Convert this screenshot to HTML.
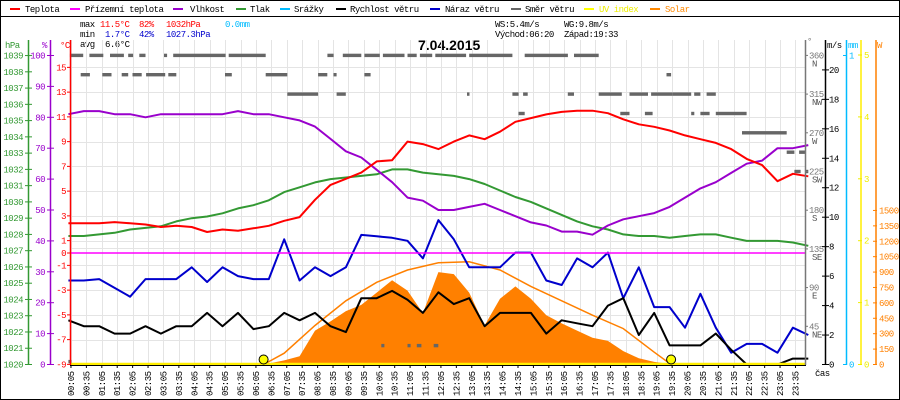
<!DOCTYPE html>
<html><head><meta charset="utf-8">
<style>
html,body{margin:0;padding:0;background:#fff;}
svg{display:block;}
text{font-family:"Liberation Mono",monospace;font-size:9px;letter-spacing:-0.5px;}
</style></head>
<body>
<svg id="c" width="900" height="400" xmlns="http://www.w3.org/2000/svg">
<rect x="0.5" y="0.5" width="899" height="399" fill="#fff" stroke="#000"/>
<line x1="0" y1="16.5" x2="900" y2="16.5" stroke="#000"/>
<g>
<g><line x1="10" y1="9" x2="20" y2="9" stroke="#f00" stroke-width="2"/><text x="25" y="12">Teplota</text></g>
<g><line x1="70" y1="9" x2="80" y2="9" stroke="#f0f" stroke-width="2"/><text x="85" y="12">Přízemní teplota</text></g>
<g><line x1="173" y1="9" x2="183" y2="9" stroke="#90c" stroke-width="2"/><text x="190" y="12">Vlhkost</text></g>
<g><line x1="236" y1="9" x2="246" y2="9" stroke="#393" stroke-width="2"/><text x="250" y="12">Tlak</text></g>
<g><line x1="280" y1="9" x2="290" y2="9" stroke="#0bf" stroke-width="2"/><text x="294" y="12">Srážky</text></g>
<g><line x1="336" y1="9" x2="346" y2="9" stroke="#000" stroke-width="2"/><text x="350" y="12">Rychlost větru</text></g>
<g><line x1="430" y1="9" x2="440" y2="9" stroke="#00c" stroke-width="2"/><text x="445" y="12">Náraz větru</text></g>
<g><line x1="511" y1="9" x2="521" y2="9" stroke="#666" stroke-width="2"/><text x="525" y="12">Směr větru</text></g>
<g><line x1="584" y1="9" x2="594" y2="9" stroke="#ff0" stroke-width="2"/><text x="599" y="12" fill="#ee0">UV index</text></g>
<g><line x1="650" y1="9" x2="660" y2="9" stroke="#f80" stroke-width="2"/><text x="665" y="12" fill="#f80">Solar</text></g>
</g>
<g>
<text x="80" y="27">max</text><text x="100" y="27" fill="#f00">11.5°C</text><text x="139" y="27" fill="#f00">82%</text><text x="166" y="27" fill="#f00">1032hPa</text><text x="225" y="27" fill="#0bf">0.0mm</text>
<text x="80" y="37">min</text><text x="105" y="37" fill="#00c">1.7°C</text><text x="139" y="37" fill="#00c">42%</text><text x="166" y="37" fill="#00c">1027.3hPa</text>
<text x="80" y="47">avg</text><text x="105" y="47">6.6°C</text>
<text x="495" y="27">WS:5.4m/s</text><text x="564" y="27">WG:9.8m/s</text>
<text x="495" y="37">Východ:06:20</text><text x="564" y="37">Západ:19:33</text>
</g>
<text x="418" y="50" style="font-family:'Liberation Sans',sans-serif;font-size:14px;font-weight:bold;letter-spacing:0">7.04.2015</text>
<g id="plot"></g>
</svg>
<script>
// ---- data (half-hour samples, 00:00 .. 24:00) ----
const temperature = [2.4,2.4,2.4,2.5,2.4,2.3,2.1,2.2,2.1,1.7,1.9,1.8,2.0,2.2,2.6,2.9,4.3,5.5,6.0,6.5,7.4,7.5,9.0,8.8,8.4,9.0,9.5,9.2,9.8,10.6,10.9,11.2,11.4,11.5,11.5,11.3,10.8,10.4,10.2,9.9,9.5,9.2,8.9,8.4,7.6,7.1,5.8,6.4,6.2];
const humidity = [81,82,82,81,81,80,81,81,81,81,81,82,81,81,80,79,77,73,69,67,63,59,54,53,50,50,51,52,50,48,46,45,43,43,42,45,47,48,49,51,54,57,59,62,65,66,70,70,71];
const pressure = [1027.9,1027.9,1028.0,1028.1,1028.3,1028.4,1028.5,1028.8,1029.0,1029.1,1029.3,1029.6,1029.8,1030.1,1030.6,1030.9,1031.2,1031.4,1031.5,1031.6,1031.7,1032.0,1032.0,1031.8,1031.7,1031.6,1031.4,1031.1,1030.7,1030.3,1030.0,1029.6,1029.2,1028.8,1028.5,1028.3,1028.0,1027.9,1027.9,1027.8,1027.9,1028.0,1028.0,1027.8,1027.6,1027.6,1027.6,1027.5,1027.3];
const windGust = [5.7,5.7,5.8,5.2,4.6,5.8,5.8,5.8,6.6,5.6,6.6,6.0,5.8,5.8,8.5,5.7,6.6,6.0,6.6,8.8,8.7,8.6,8.4,7.2,9.8,8.5,6.6,6.6,6.6,7.6,7.6,5.7,5.4,7.2,6.6,7.6,4.5,6.6,3.9,3.9,2.5,4.8,2.5,0.8,1.4,1.4,0.8,2.5,2.0];
const windSpeed = [3.0,2.6,2.6,2.1,2.1,2.6,2.1,2.6,2.6,3.5,2.6,3.5,2.4,2.6,3.5,3.0,3.5,2.6,2.2,4.5,4.5,5.0,4.4,3.5,4.9,4.1,4.5,2.6,3.5,3.5,3.5,2.1,3.0,2.8,2.6,4.0,4.5,2.0,3.5,1.3,1.3,1.3,2.1,1.0,0,0,0,0.4,0.4];
const solar = [0,0,0,0,0,0,0,0,0,0,0,0,0,10,40,80,330,420,520,580,700,820,720,500,900,880,700,380,640,760,640,480,400,330,260,230,130,60,25,5,0,0,0,0,0,0,0,0,0];
const clearSkyHours = [6.33,7,8,9,10,11,12,13,14,15,16,17,18,19,19.55];
const clearSkyValues = [0,110,380,620,800,920,990,1000,920,760,620,480,350,120,0];
const dirStart = [0.05,0.68,1.35,1.94,2.3,3.1,3.4,5.2,8.4,8.9,9.6,10.2,11.0,11.4,11.9,13.0,14.8,16.4, 0.4,1.1,1.73,2.08,2.52,3.24,5.08,6.4,8.1,8.6,9.6,19.4, 7.1,8.7,12.93,14.4,14.75,16.2,17.2,18.2,18.9,19.6,20.3,20.7, 14.6,17.9,18.7,20.2,20.5,21.0, 21.85, 23.3,23.7, 23.55,23.9, 10.15,11.0,11.3,11.85, 0.0];
const dirEnd   = [0.48,1.13,1.8,2.1,2.5,3.2,5.1,6.4,8.6,9.5,10.1,10.9,11.3,11.8,12.9,14.4,16.2,17.2, 0.7,1.4,1.94,2.38,3.14,3.5,5.3,7.1,8.4,8.7,9.8,19.55, 8.1,9.0,13.0,14.6,14.9,16.4,17.95,18.8,19.6,20.2,20.5,21.0, 14.8,18.2,18.95,20.3,20.8,22.0, 23.3, 23.55,23.9, 23.75,24.0, 10.25,11.1,11.45,12.0, 0.1];
const dirValue = [360,360,360,360,360,360,360,360,360,360,360,360,360,360,360,360,360,360, 337.5,337.5,337.5,337.5,337.5,337.5,337.5,337.5,337.5,337.5,337.5,337.5, 315,315,315,315,315,315,315,315,315,315,315,315, 292.5,292.5,292.5,292.5,292.5,292.5, 270, 247.5,247.5, 225,225, 22.5,22.5,22.5,22.5, 4];
const sunTimes = [6.333, 19.55];
const tempTicks = [15,13,11,9,7,5,3,1,0,-1,-3,-5,-7,-9];
const pressTicks = [1039,1038,1037,1036,1035,1034,1033,1032,1031,1030,1029,1028,1027,1026,1025,1024,1023,1022,1021,1020];
const humTicks = [100,90,80,70,60,50,40,30,20,10,0];
const dirTicks = [360,315,270,225,180,135,90,45];
const dirNames = ['N','NW','W','SW','S','SE','E','NE'];
const windTicks = [0,2,4,6,8,10,12,14,16,18,20];
const uvTicks = [0,1,2,3,4,5];
const solarTicks = [0,150,300,450,600,750,900,1050,1200,1350,1500];
const timeLabels = [];
for (let h=0; h<24; h++){ const hh=(h<10?'0':'')+h; timeLabels.push(hh+':05'); timeLabels.push(hh+':35'); }

// ---- scales ----
const X0=68.4, PX_H=30.83, YB=364.5;
const xH = h => X0 + h*PX_H;
const xI = i => xH(i/2);
const yT = t => 253 - t*12.375;
const yP = p => YB - (p-1020)*16.26;
const yHum = v => YB - v*3.09;
const yW = v => YB - v*14.73;
const yDir = d => 365 - d*0.86;
const yS = w => YB - w*0.1027;
const yUV = u => YB - u*61.9;

const NS='http://www.w3.org/2000/svg';
const plot=document.getElementById('plot');
function mk(tag, attrs, parent){ const e=document.createElementNS(NS,tag); for(const k in attrs) e.setAttribute(k,attrs[k]); (parent||plot).appendChild(e); return e; }

// grid
const grid=mk('g',{});


timeLabels.forEach((l,k)=>{ const x=Math.round(xH((5+30*k)/60))+0.5; mk('line',{x1:x,y1:40,x2:x,y2:364,stroke:'#e4e4e4'},grid); });
tempTicks.forEach(t=>{ if(t===0) return; const y=Math.round(yT(t))+0.5; mk('line',{x1:70,y1:y,x2:805,y2:y,stroke:'#e4e4e4'},grid); });
mk('line',{x1:70,y1:248.5,x2:805,y2:248.5,stroke:'#e4e4e4'},grid);

// solar area
let d='M'+xI(0)+','+YB;
solar.forEach((v,i)=>{ d+=' L'+xI(i).toFixed(1)+','+yS(v).toFixed(1); });
d+=' L'+xI(solar.length-1)+','+YB+' Z';
const sa=mk('path',{d:d,fill:'#ff8000'});


const cs=mk('polyline',{points:clearSkyHours.map((h,i)=>xH(h).toFixed(1)+','+yS(clearSkyValues[i]).toFixed(1)).join(' '),fill:'none',stroke:'#ff8000','stroke-width':1.5});



// wind direction dashes
const dg=mk('g',{});


dirValue.forEach((v,i)=>{ const r=mk('rect',{x:xH(dirStart[i]).toFixed(1),y:(yDir(v)-1.7).toFixed(1),width:Math.max(2.5,xH(dirEnd[i])-xH(dirStart[i])).toFixed(1),height:3.4,fill:'#666'},dg);

 });

function series(arr, yf, color, name){
  const p=mk('polyline',{points:arr.map((v,i)=>xI(i).toFixed(1)+','+yf(v).toFixed(1)).join(' '),fill:'none',stroke:color,'stroke-width':2,'stroke-linejoin':'round'});
  
  
}
series(pressure,yP,'#339933','pressure-line');
series(humidity,yHum,'#9900cc','humidity-line');
series(temperature,yT,'#ff0000','temperature-line');
series(windGust,yW,'#0000cc','wind-gust-line');
series(windSpeed,yW,'#000000','wind-speed-line');

const mz=mk('line',{x1:70,y1:253,x2:805,y2:253,stroke:'#ff00ff','stroke-width':1.5});


const uv=mk('line',{x1:70,y1:364,x2:805,y2:364,stroke:'#ffee00','stroke-width':2.5});


sunTimes.forEach(h=>{ const c=mk('circle',{cx:xH(h).toFixed(1),cy:359.5,r:4.5,fill:'#ff0',stroke:'#000','stroke-width':1});

 });

// axes
function axis(name,x,color,y1){ const a=mk('line',{x1:x,y1:y1,x2:x,y2:365,stroke:color,'stroke-width':1.5});

 }
function txt(s,x,y,color,anchor,name){ const t=mk('text',{x:x,y:y,fill:color,'text-anchor':anchor||'start'}); t.textContent=s;

 return t; }
axis('pressure-axis',28.5,'#339933',40);
axis('humidity-axis',50.5,'#9900cc',40);
axis('temperature-axis',70.5,'#ff0000',40);
axis('direction-axis',805.5,'#777',40);
axis('wind-axis',825.5,'#000',40);
axis('rain-axis',846.5,'#00bbff',40);
axis('uv-axis',861,'#ffee00',40);
axis('solar-axis',876,'#ff8000',40);
txt('hPa',5,48,'#339933','start','pressure-axis-title');
txt('%',42,48,'#9900cc','start','humidity-axis-title');
txt('°C',60,48,'#ff0000','start','temperature-axis-title');
txt('°',807,44,'#777','start','direction-axis-title');
txt('m/s',827,48,'#000','start','wind-axis-title');
txt('mm',848,48,'#00bbff','start','rain-axis-title');
txt('W',877,48,'#ff8000','start','solar-axis-title');

pressTicks.forEach(p=>{ const y=yP(p); mk('line',{x1:25,y1:y,x2:32,y2:y,stroke:'#339933'}); txt(p,23,y+3,'#339933','end','pressure-tick-label'); });
humTicks.forEach(v=>{ const y=yHum(v); mk('line',{x1:47,y1:y,x2:54,y2:y,stroke:'#9900cc'}); txt(v,45,y+3,'#9900cc','end','humidity-tick-label'); });
tempTicks.forEach(t=>{ const y=yT(t); mk('line',{x1:67,y1:y,x2:70,y2:y,stroke:'#ff0000'}); txt(t,66,y+3,'#ff0000','end','temperature-tick-label'); });
dirTicks.forEach((v,i)=>{ const y=yDir(v)+0; mk('line',{x1:805,y1:y,x2:808,y2:y,stroke:'#777'}); txt(v,809,y+3,'#777','start','direction-tick-label'); txt(dirNames[i],812,y+11,'#555','start','direction-name-label'); });
windTicks.forEach(v=>{ const y=yW(v); mk('line',{x1:822,y1:y,x2:829,y2:y,stroke:'#000'}); txt(v,829,y+3,'#000','start','wind-tick-label'); });
[0,1].forEach(v=>{ const y=YB-v*309; mk('line',{x1:843,y1:y,x2:847,y2:y,stroke:'#00bbff'}); txt(v,849,y+3,'#00bbff','start','rain-tick-label'); });
uvTicks.forEach(v=>{ const y=yUV(v); mk('line',{x1:858,y1:y,x2:862,y2:y,stroke:'#ee0'}); txt(v,864,y+3,'#ee0','start','uv-tick-label'); });
solarTicks.forEach(v=>{ const y=yS(v); mk('line',{x1:873,y1:y,x2:877,y2:y,stroke:'#ff8000'}); txt(v,879,y+3,'#ff8000','start','solar-tick-label'); });

// x axis
mk('line',{x1:70,y1:365.5,x2:806,y2:365.5,stroke:'#000'});
timeLabels.forEach((l,k)=>{ const x=xH((5+30*k)/60);
 mk('line',{x1:x,y1:365,x2:x,y2:368,stroke:'#000'});
 const t=mk('text',{x:0,y:0,transform:'translate('+(x+3).toFixed(1)+',396) rotate(-90)'}); t.textContent=l;
 
  });
txt('čas',815,376,'#000','start','x-axis-title');
</script>
</body></html>
